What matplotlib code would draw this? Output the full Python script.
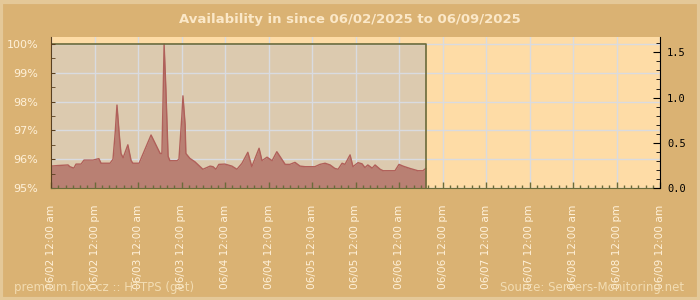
import matplotlib
matplotlib.use("Agg")
import matplotlib.pyplot as plt
import matplotlib.dates as mdates
from matplotlib.patches import Rectangle
from matplotlib.ticker import MultipleLocator, FuncFormatter
import pandas as pd

# availability readings, hours after 06/02/2025 00:00
hours = [0.0, 1.9, 4.7, 5.2, 6.3, 6.9, 8.3, 9.1, 11.6, 13.2, 13.8, 16.3, 17.1, 17.7,
         18.2, 18.8, 19.3, 19.9, 21.2, 22.1, 22.6, 24.3, 27.6, 30.1, 30.6, 30.9, 31.2,
         31.7, 32.3, 32.8, 34.8, 35.3, 36.1, 36.4, 37.0, 37.2, 38.3, 39.7, 41.9, 43.9,
         44.7, 45.5, 46.3, 48.0, 49.9, 51.3, 52.7, 54.3, 55.4, 57.4, 58.2, 59.6, 61.0,
         62.3, 64.6, 65.9, 67.3, 68.7, 70.1, 72.8, 74.2, 75.6, 77.0, 78.3, 79.2, 80.3,
         81.1, 82.5, 83.3, 84.7, 85.8, 86.6, 87.4, 88.6, 89.4, 90.8, 91.6, 94.9, 96.0,
         97.1, 99.0, 101.2, 102.6, 103.4]
avail = [95.76, 95.78, 95.80, 95.74, 95.69, 95.83, 95.83, 95.97, 95.97, 96.02, 95.86,
         95.86, 96.00, 96.90, 97.88, 96.90, 96.20, 96.05, 96.50, 95.95, 95.86, 95.86,
         96.84, 96.20, 96.20, 98.00, 100.0, 98.40, 96.10, 95.95, 95.95, 96.00, 97.50,
         98.20, 97.20, 96.20, 96.03, 95.91, 95.65, 95.76, 95.74, 95.65, 95.82, 95.83,
         95.76, 95.65, 95.86, 96.24, 95.74, 96.38, 95.95, 96.07, 95.95, 96.26, 95.82,
         95.82, 95.89, 95.76, 95.74, 95.74, 95.82, 95.86, 95.80, 95.68, 95.65, 95.86,
         95.82, 96.15, 95.74, 95.88, 95.84, 95.71, 95.80, 95.69, 95.80, 95.65, 95.60,
         95.60, 95.82, 95.76, 95.68, 95.60, 95.60, 95.68]

start = pd.Timestamp("2025-06-02 00:00")
end = pd.Timestamp("2025-06-09 00:00")
times = start + pd.to_timedelta(hours, unit="h")

title = "Availability in since 06/02/2025 to 06/09/2025"
footer_left = "premium.flox.cz :: HTTPS (get)"
footer_right = "Source: Servers-Monitoring.net"

bg = "#dab273"
plot_bg = "#fedca6"
shade = "#dccaaf"
fill_c = "#b98073"
line_c = "#b0605a"
olive = "#6b6b3a"
brown = "#5a4020"
txt = "#fff1d9"

fig = plt.figure(figsize=(7, 3), dpi=100, facecolor=bg)
fig.patches.append(Rectangle((0.002, 0.003), 0.996, 0.992, transform=fig.transFigure,
                             fill=False, edgecolor="#e4c898", linewidth=3))

pos = [51/700, 112/300, 609/700, 151/300]
ax = fig.add_axes(pos)
ax.set_facecolor(plot_bg)
ax.set_xlim(start, end)
ax.set_ylim(95, 100.243)

# grid stays on the main axes, under the shaded box contents
ax.set_axisbelow(True)
ax.grid(True, color="#d9dbe0", linewidth=1)

# measured period box
x0 = mdates.date2num(times[0])
x1 = mdates.date2num(times[-1])
ax.add_patch(Rectangle((x0, 95), x1 - x0, 5, facecolor=shade, edgecolor="none",
                       zorder=0.3))
ax.fill_between(times, 95, avail, color=fill_c, linewidth=0, zorder=3)
ax.plot(times, avail, color=line_c, linewidth=1, zorder=4)
ax.plot([times[0], times[-1], times[-1]], [100, 100, 95], color=olive,
        linewidth=1.2, zorder=4)

ax.xaxis.set_major_locator(mdates.HourLocator(byhour=[0, 12]))
ax.xaxis.set_minor_locator(mdates.HourLocator(interval=2))
ax.xaxis.set_major_formatter(FuncFormatter(
    lambda v, p: mdates.num2date(v).strftime("%m/%d %I:%M %p").lower()))
ax.yaxis.set_major_locator(MultipleLocator(1))
ax.yaxis.set_minor_locator(MultipleLocator(0.5))
ax.yaxis.set_major_formatter(FuncFormatter(lambda v, p: "%d%%" % round(v)))
ax.tick_params(axis="x", which="both", length=0, labelcolor=txt, labelsize=7.6,
               labelrotation=90, pad=12)
ax.tick_params(axis="y", which="both", length=0, labelcolor=txt, labelsize=8, pad=9)
for lab in ax.get_xticklabels():
    lab.set_verticalalignment("top")
for s in ax.spines.values():
    s.set_visible(False)

# overlay axes carrying the spines and tick marks above the fill
axt = fig.add_axes(pos, sharex=ax, sharey=ax)
axt.patch.set_visible(False)
axt.tick_params(axis="x", which="both", direction="in", colors=olive,
                labelbottom=False, width=1)
axt.tick_params(axis="x", which="major", length=4)
axt.tick_params(axis="x", which="minor", length=2.5)
axt.tick_params(axis="y", which="both", direction="in", colors=brown,
                labelleft=False, length=3)
axt.spines["top"].set_visible(False)
axt.spines["right"].set_visible(False)
axt.spines["bottom"].set_color(olive)
axt.spines["left"].set_color(brown)

ax2 = axt.twinx()
ax2.set_ylim(0, 1.67)
ax2.yaxis.set_major_locator(MultipleLocator(0.5))
ax2.yaxis.set_minor_locator(MultipleLocator(0.1))
ax2.yaxis.set_major_formatter(FuncFormatter(lambda v, p: "%.1f" % v))
ax2.tick_params(axis="y", which="both", direction="in", colors="black", pad=5)
ax2.tick_params(axis="y", which="major", length=5, labelsize=7.5)
ax2.tick_params(axis="y", which="minor", length=3)
for lab in ax2.get_yticklabels():
    lab.set_family("DejaVu Sans Mono")
for s in ["top", "left", "bottom"]:
    ax2.spines[s].set_visible(False)
ax2.spines["right"].set_color("black")

fig.text(0.5, 1 - 20/300, title, ha="center", va="center", color="#fbe8c8",
         fontsize=9.5, fontweight="bold")
fig.text(14/700, 1 - 287/300, footer_left, ha="left", va="center",
         color="#f2dcb2", fontsize=8.5)
fig.text(684/700, 1 - 287/300, footer_right, ha="right", va="center",
         color="#f2dcb2", fontsize=8.5)

fig.savefig("out.png", dpi=100, facecolor=bg)
